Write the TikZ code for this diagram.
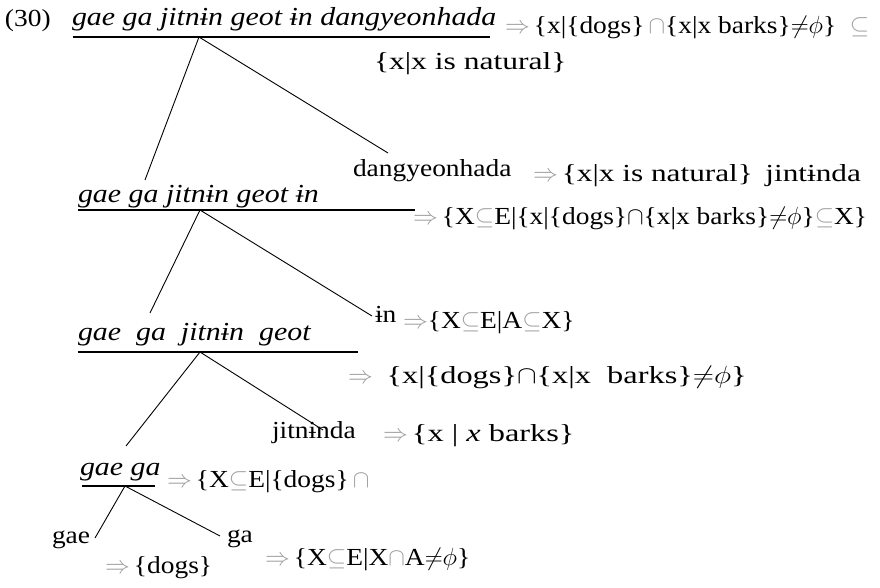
\documentclass[tikz,border=0pt]{standalone}
\usepackage{fontspec}
\setmainfont{Liberation Serif}[FakeStretch=1.12]
\usetikzlibrary{calc}
\definecolor{faint}{gray}{0.62}
\newcommand{\imp}{\textcolor{faint}{$\Rightarrow$}}
\newcommand{\sbs}{\textcolor{faint}{$\subseteq$}}
\newcommand{\fcap}{\textcolor{faint}{$\cap$}}
\newcommand{\nph}{{\neq}{\phi}}
\newcommand{\wider}[2]{\scalebox{#1}[1]{#2}}
\begin{document}
\begin{tikzpicture}[x=1pt,y=-1pt,
  every node/.style={inner sep=0pt,outer sep=0pt,anchor=base west,
    font=\fontsize{24.5}{28}\selectfont},
  phrase/.style={font=\fontsize{26}{30}\selectfont\itshape\addfontfeature{FakeStretch=1.15}},
  branch/.style={line width=0.9pt},
  bar/.style={line width=1.3pt}]
\useasboundingbox (0,0) rectangle (880,588);

% root phrase
\node (num) at (5,27) {(30)};
\node[phrase] (s0) at (72,26) {gae ga jitnɨn geot ɨn dangyeonhada};
\coordinate (u0a) at (73,37);
\coordinate (u0b) at (490,37);
\coordinate (r0) at (199,37);
\draw[bar] (u0a) -- (u0b);
\node (f0) at (505,34) {\imp\,\{x|\{dogs\}\,\fcap\{x|x barks\}$\nph$\}\ \ \sbs};
\node (f0b) at (374,70) {\wider{1.15}{\{x|x is natural\}}};

% first split
\node (dang) at (353,177) {dangyeonhada};
\node (f1) at (533,182) {\imp\,\wider{1.14}{\{x|x is natural\}\ \,jintɨnda}};
\node[phrase] (s1) at (78,202) {gae ga jitnɨn geot ɨn};
\coordinate (u1a) at (78,210);
\coordinate (u1b) at (415,210);
\coordinate (r1) at (200,210);
\draw[bar] (u1a) -- (u1b);
\node (f2) at (413,224) {\imp\,\{X\sbs E|\{x|\{dogs\}$\cap$\{x|x barks\}$\nph$\}\sbs X\}};
\coordinate (e0l) at (145,180);
\coordinate (e0r) at (388,153);
\draw[branch] (r0) -- (e0l);
\draw[branch] (r0) -- (e0r);

% second split
\node (inn) at (375,322) {ɨn};
\node (f3) at (403,328) {\imp\{X\sbs E|A\sbs X\}};
\node[phrase] (s2) at (78,340) {gae\ \ ga\ \ jitnɨn\ \ geot};
\coordinate (u2a) at (78,352);
\coordinate (u2b) at (358,352);
\coordinate (r2) at (200,352);
\draw[bar] (u2a) -- (u2b);
\node (f4) at (348,383) {\imp\ \ \wider{1.18}{\{x|\{dogs\}$\cap$\{x|x\ \ barks\}$\nph$\}}};
\coordinate (e1l) at (150,313);
\coordinate (e1r) at (372,316);
\draw[branch] (r1) -- (e1l);
\draw[branch] (r1) -- (e1r);

% third split
\node (jit) at (272,438) {jitnɨnda};
\node (f5) at (383,441) {\imp\,\wider{1.18}{\{x | \textit{x} barks\}}};
\node[phrase] (s3) at (80,475) {gae ga};
\coordinate (u3a) at (82,486);
\coordinate (u3b) at (155,486);
\coordinate (r3) at (125,486);
\draw[bar] (u3a) -- (u3b);
\node (f6) at (167,487) {\imp\,\{X\sbs E|\{dogs\}\,\fcap};
\coordinate (e2l) at (126,446);
\coordinate (e2r) at (323,430);
\draw[branch] (r2) -- (e2l);
\draw[branch] (r2) -- (e2r);

% leaves
\node (gae) at (52,543) {gae};
\node (f7) at (105,573) {\imp\,\{dogs\}};
\node (ga) at (227,542) {ga};
\node (f8) at (265,565) {\imp\,\{X\sbs E|X\fcap A$\nph$\}};
\coordinate (e3l) at (95,538);
\coordinate (e3r) at (220,536);
\draw[branch] (r3) -- (e3l);
\draw[branch] (r3) -- (e3r);
\end{tikzpicture}
\end{document}
